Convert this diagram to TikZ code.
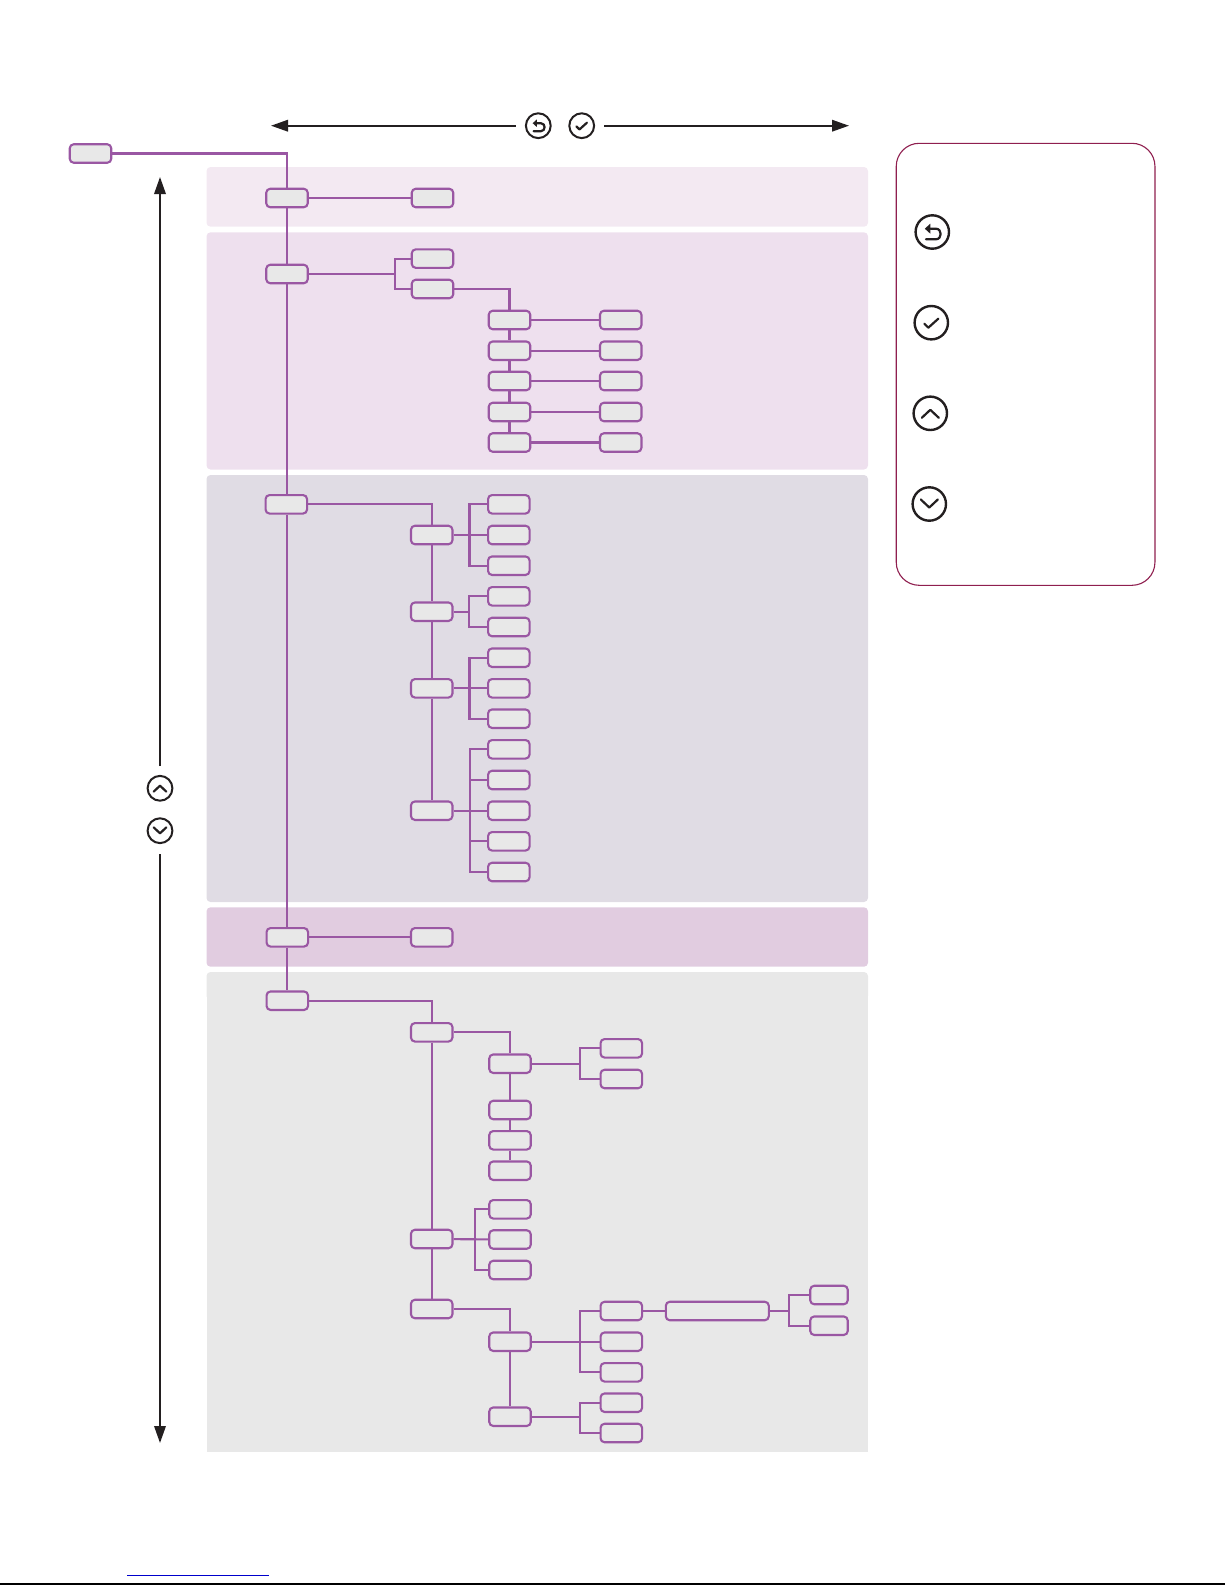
\documentclass[tikz,border=0pt]{standalone}
\usepackage{xcolor}
\usepackage{tikz}
\usetikzlibrary{arrows.meta,positioning,calc}
\definecolor{menupurple}{HTML}{9A57A3}
\definecolor{menufill}{HTML}{E8E8E8}
\definecolor{bandone}{HTML}{F3E9F2}
\definecolor{bandtwo}{HTML}{EEE0EE}
\definecolor{bandthree}{HTML}{E0DCE4}
\definecolor{bandfour}{HTML}{E1CCE0}
\definecolor{bandfive}{HTML}{E8E8E8}
\definecolor{inkblack}{HTML}{231F20}
\definecolor{legendred}{HTML}{8F1F4F}
\tikzset{
  menubox/.style    = {rectangle, rounded corners=4pt, draw=menupurple, fill=menufill,
                       line width=2.1pt, minimum width=41.5pt, minimum height=18.5pt,
                       inner sep=0pt},
  menuwide/.style   = {menubox, minimum width=103pt},
  menushort/.style  = {menubox, minimum width=37.5pt},
  menuflow/.style   = {draw=menupurple, line width=2.1pt},
  navflow/.style    = {-{Stealth[length=17pt,width=11.5pt,inset=0pt]}, draw=inkblack, line width=1.8pt},
  iconring/.style   = {circle, draw=inkblack, fill=white, line width=2pt,
                       minimum size=24.8pt, inner sep=0pt},
  iconbig/.style    = {iconring, minimum size=33.4pt, line width=2.4pt},
  iconmark/.style   = {draw=inkblack, line width=2.2pt, line cap=round, line join=round},
  iconback/.pic     = {
    \draw[iconmark] (-6.3,7.3) -- (3.5,7.3) .. controls (10,7.3) and (10,-3.3) .. (3.5,-3.3) -- (-2,-3.3);
    \fill[inkblack] (-7.5,-3.3) -- (-2,-8.3) -- (-2,1.7) -- cycle;
  },
  iconcheck/.pic    = {\draw[iconmark] (-7,1) -- (-3,5) -- (7,-4);},
  iconup/.pic       = {\draw[iconmark] (-8.5,4.5) -- (0,-3.5) -- (8.5,4.5);},
  icondown/.pic     = {\draw[iconmark] (-8.5,-4.5) -- (0,3.5) -- (8.5,-4.5);},
}
\begin{document}
\begin{tikzpicture}[x=1pt,y=-1pt]
  \useasboundingbox (0,0) rectangle (1225,1585);

  % shaded bands
  \fill[bandone,rounded corners=4pt]   (206.5,167) rectangle (868,226.7);
  \fill[bandtwo,rounded corners=4pt]   (206.5,232.3) rectangle (868,469.5);
  \fill[bandthree,rounded corners=4pt] (206.5,475) rectangle (868,902);
  \fill[bandfour,rounded corners=4pt]  (206.5,907.3) rectangle (868,966.7);
  \fill[bandfive,rounded corners=4pt]  (206.5,972) rectangle (868,1000);
  \fill[bandfive]                      (206.5,980) rectangle (868,1452);

  % root and first level
  \node[menubox] (root)  at (90.5,153.5) {};
  \node[menubox] (first) at (287,198)    {};
  \node[menubox] (secnd) at (287,274)    {};
  \node[menubox] (third) at (286.3,504.3) {};
  \node[menubox] (forth) at (287.3,937.3) {};
  \node[menubox] (fifth) at (287.3,1000.7) {};

  % first band
  \node[menubox] (firsta) at (432.5,198) {};

  % second band
  \node[menubox] (secnda) at (432.5,258.6) {};
  \node[menubox] (secndb) at (432.5,289)   {};
  \node[menubox] (setb)   at (509.5,320)   {};
  \node[menubox] (setc)   at (509.5,350.7) {};
  \node[menubox] (setd)   at (509.5,381)   {};
  \node[menubox] (sete)   at (509.5,412)   {};
  \node[menubox] (setf)   at (509.5,442.5) {};
  \node[menubox] (valb)   at (620.7,320)   {};
  \node[menubox] (valc)   at (620.7,350.7) {};
  \node[menubox] (vald)   at (620.7,381)   {};
  \node[menubox] (vale)   at (620.7,412)   {};
  \node[menubox] (valf)   at (620.7,442.5) {};

  % third band
  \node[menubox] (thirda) at (431.7,535)   {};
  \node[menubox] (thirdb) at (431.7,611.7) {};
  \node[menubox] (thirdc) at (431.7,688.3) {};
  \node[menubox] (thirdd) at (431.7,810.7) {};
  \node[menubox] (optaa)  at (508.8,504.3) {};
  \node[menubox] (optab)  at (508.8,535)   {};
  \node[menubox] (optac)  at (508.8,565.7) {};
  \node[menubox] (optba)  at (508.8,596.3) {};
  \node[menubox] (optbb)  at (508.8,627)   {};
  \node[menubox] (optca)  at (508.8,657.7) {};
  \node[menubox] (optcb)  at (508.8,688.3) {};
  \node[menubox] (optcc)  at (508.8,718.7) {};
  \node[menubox] (optda)  at (508.8,749.3) {};
  \node[menubox] (optdb)  at (508.8,780)   {};
  \node[menubox] (optdc)  at (508.8,810.7) {};
  \node[menubox] (optdd)  at (508.8,841.3) {};
  \node[menubox] (optde)  at (508.8,872)   {};

  % fourth band
  \node[menubox] (fortha) at (431.7,937.3) {};

  % fifth band
  \node[menubox]   (fiftha) at (431.7,1032.3) {};
  \node[menubox]   (fifthb) at (431.7,1239)  {};
  \node[menubox]   (fifthc) at (431.7,1309)  {};
  \node[menubox]   (sysa)   at (510,1063.7)  {};
  \node[menubox]   (sysb)   at (510,1110)    {};
  \node[menubox]   (sysc)   at (510,1140.3)  {};
  \node[menubox]   (sysd)   at (510,1170.7)  {};
  \node[menubox]   (syse)   at (510,1209.3)  {};
  \node[menubox]   (sysf)   at (510,1239.5)  {};
  \node[menubox]   (sysg)   at (510,1270)    {};
  \node[menubox]   (sysh)   at (510,1341.7)  {};
  \node[menubox]   (sysi)   at (510,1416.7)  {};
  \node[menubox]   (leafa)  at (621.3,1048.3) {};
  \node[menubox]   (leafb)  at (621.3,1079)  {};
  \node[menubox]   (leafc)  at (621.3,1311)  {};
  \node[menubox]   (leafd)  at (621.3,1341.7) {};
  \node[menubox]   (leafe)  at (621.3,1372.3) {};
  \node[menubox]   (leaff)  at (621.3,1402.7) {};
  \node[menubox]   (leafg)  at (621.3,1433)  {};
  \node[menuwide]  (longbar) at (717.3,1311) {};
  \node[menushort] (enda)   at (829,1295)    {};
  \node[menushort] (endb)   at (829,1325.7)  {};

  % junctions
  \coordinate (jsec)  at (395.3,274);
  \coordinate (jtha)  at (469.5,535);
  \coordinate (jthb)  at (469,611.7);
  \coordinate (jthc)  at (469.5,688.3);
  \coordinate (jthd)  at (470,810.7);
  \coordinate (jfia)  at (580,1063.7);
  \coordinate (jfib)  at (475,1239.5);
  \coordinate (jfic)  at (580,1341.7);
  \coordinate (jfid)  at (580,1416.7);
  \coordinate (jfie)  at (789.3,1311);

  % trunk
  \draw[menuflow] (root) -| (first);
  \draw[menuflow] (first) -- (secnd);
  \draw[menuflow] (secnd.south) -- (third.north-|secnd);
  \draw[menuflow] (third.south-|forth) -- (forth);
  \draw[menuflow] (forth) -- (fifth);

  \draw[menuflow] (first) -- (firsta);

  \draw[menuflow] (secnd) -- (jsec);
  \draw[menuflow] (secnda) -| (jsec) |- (secndb);
  \draw[menuflow] (secndb) -| (setb);
  \draw[menuflow] (setb) -- (setc);
  \draw[menuflow] (setc) -- (setd);
  \draw[menuflow] (setd) -- (sete);
  \draw[menuflow] (sete) -- (setf);
  \draw[menuflow] (setb) -- (valb);
  \draw[menuflow] (setc) -- (valc);
  \draw[menuflow] (setd) -- (vald);
  \draw[menuflow] (sete) -- (vale);
  \draw[menuflow] (setf) -- (valf);

  \draw[menuflow] (third) -| (thirda);
  \draw[menuflow] (thirda) -- (thirdb);
  \draw[menuflow] (thirdb) -- (thirdc);
  \draw[menuflow] (thirdc) -- (thirdd);
  \draw[menuflow] (thirda) -- (optab);
  \draw[menuflow] (optaa) -| (jtha) |- (optac);
  \draw[menuflow] (thirdb) -- (jthb);
  \draw[menuflow] (optba) -| (jthb) |- (optbb);
  \draw[menuflow] (thirdc) -- (optcb);
  \draw[menuflow] (optca) -| (jthc) |- (optcc);
  \draw[menuflow] (thirdd) -- (optdc);
  \draw[menuflow] (optda) -| (jthd) |- (optde);
  \draw[menuflow] (optdb) -| (jthd);
  \draw[menuflow] (optdd) -| (jthd);

  \draw[menuflow] (forth) -- (fortha);

  \draw[menuflow] (fifth) -| (fiftha);
  \draw[menuflow] (fiftha) -- (fifthb);
  \draw[menuflow] (fifthb) -- (fifthc);
  \draw[menuflow] (fiftha) -| (sysa);
  \draw[menuflow] (sysa) -- (sysb);
  \draw[menuflow] (sysb) -- (sysc);
  \draw[menuflow] (sysc) -- (sysd);
  \draw[menuflow] (sysa) -- (jfia);
  \draw[menuflow] (leafa) -| (jfia) |- (leafb);
  \draw[menuflow] (fifthb) -- (sysf);
  \draw[menuflow] (syse) -| (jfib) |- (sysg);
  \draw[menuflow] (fifthc) -| (sysh);
  \draw[menuflow] (sysh) -- (sysi);
  \draw[menuflow] (sysh) -- (leafd);
  \draw[menuflow] (leafc) -| (jfic) |- (leafe);
  \draw[menuflow] (sysi) -- (jfid);
  \draw[menuflow] (leaff) -| (jfid) |- (leafg);
  \draw[menuflow] (leafc) -- (longbar);
  \draw[menuflow] (longbar) -- (jfie);
  \draw[menuflow] (enda) -| (jfie) |- (endb);

  % navigation arrows
  \node[iconring] (topback)  at (538.3,125.7) {};
  \node[iconring] (topcheck) at (581.7,125.7) {};
  \node[iconring] (sideup)   at (160,788.3)   {};
  \node[iconring] (sidedown) at (160,830.7)   {};
  \pic[scale=.75] at (topback)  {iconback};
  \pic[scale=.75] at (topcheck) {iconcheck};
  \pic[scale=.75] at (sideup)   {iconup};
  \pic[scale=.75] at (sidedown) {icondown};
  \coordinate (topleft)  at (271,125.7);
  \coordinate (topright) at (849,125.7);
  \coordinate (sidetop)  at (160,177);
  \coordinate (sidebot)  at (160,1443);
  \draw[navflow] ($(topback)+(-22.5,0)$) -- (topleft);
  \draw[navflow] ($(topcheck)+(22.6,0)$) -- (topright);
  \draw[navflow] ($(sideup)+(0,-22.3)$) -- (sidetop);
  \draw[navflow] ($(sidedown)+(0,23.3)$) -- (sidebot);

  % legend
  \node[rectangle, rounded corners=23pt, draw=legendred, line width=1.1pt,
        minimum width=258.7pt, minimum height=442pt] (legend) at (1025.6,364.3) {};
  \node[iconbig] (keyback)  at (932.3,232)   {};
  \node[iconbig] (keycheck) at (931.3,322.7) {};
  \node[iconbig] (keyup)    at (930.3,413.3) {};
  \node[iconbig] (keydown)  at (929.3,504)   {};
  \pic at (keyback)  {iconback};
  \pic at (keycheck) {iconcheck};
  \pic at (keyup)    {iconup};
  \pic at (keydown)  {icondown};

  % rules along the foot of the page
  \coordinate (linka) at (127,1575);
  \coordinate (linkb) at (269,1575);
  \coordinate (pagea) at (0,1584);
  \coordinate (pageb) at (1225,1584);
  \draw[blue!80!black,line width=1pt] (linka) -- (linkb);
  \draw[black,line width=1.2pt] (pagea) -- (pageb);
\end{tikzpicture}
\end{document}
